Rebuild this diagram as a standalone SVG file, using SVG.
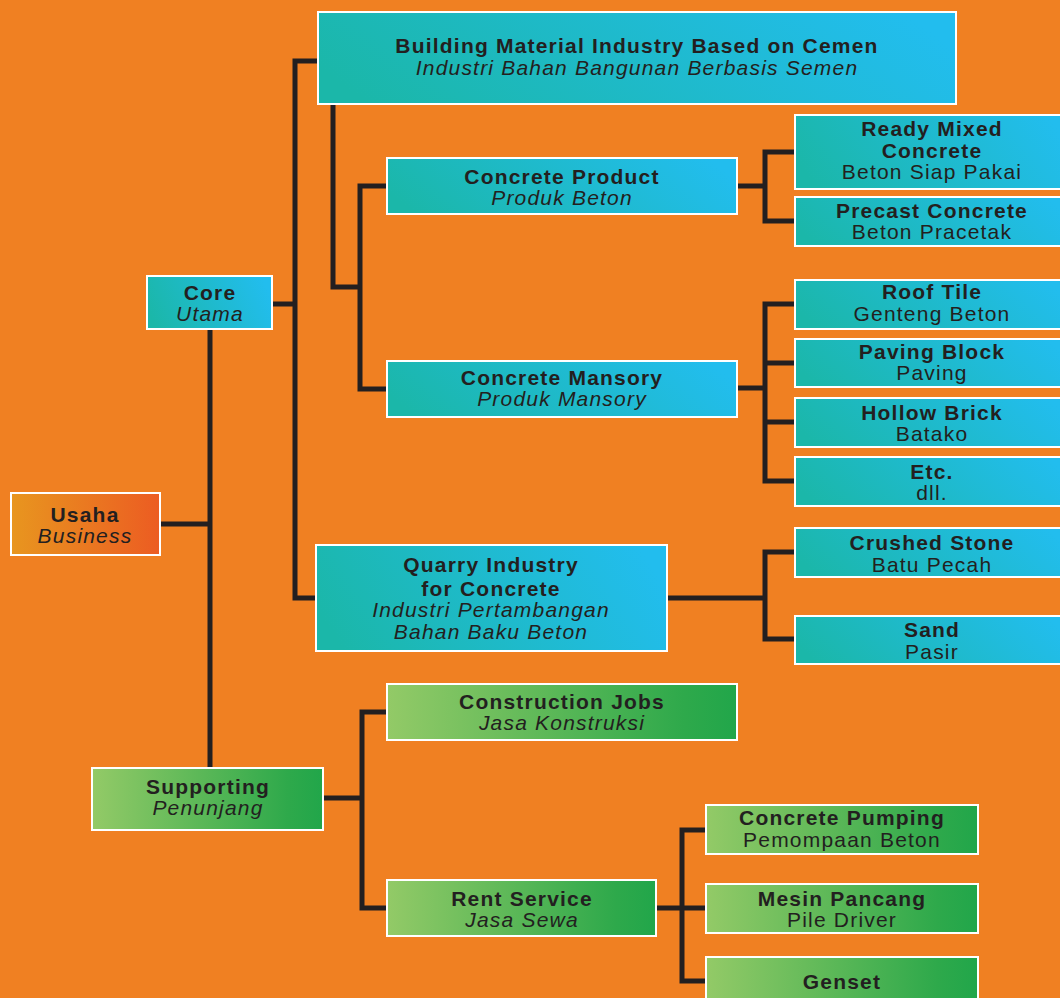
<svg xmlns="http://www.w3.org/2000/svg" width="1060" height="998" viewBox="0 0 1060 998">
<defs>
<linearGradient id="gBlue" x1="0" y1="0.6" x2="1" y2="0.4">
<stop offset="0" stop-color="#1BB7A9"/>
<stop offset="1" stop-color="#22BDEE"/>
</linearGradient>
<linearGradient id="gGreen" x1="0" y1="0" x2="1" y2="0">
<stop offset="0" stop-color="#93CA67"/>
<stop offset="0.85" stop-color="#2EA94B"/>
<stop offset="1" stop-color="#21A64A"/>
</linearGradient>
<linearGradient id="gOrange" x1="0" y1="0" x2="1" y2="0">
<stop offset="0" stop-color="#E8961F"/>
<stop offset="1" stop-color="#EC5C22"/>
</linearGradient>
</defs>
<style>
.b{fill:url(#gBlue);stroke:#FFFFFF;stroke-width:2}
.g{fill:url(#gGreen);stroke:#FFFFFF;stroke-width:2}
.o{fill:url(#gOrange);stroke:#FFFFFF;stroke-width:2}
text{font-family:"Liberation Sans",Arial,sans-serif;font-size:21px;fill:#231F20;text-anchor:middle;letter-spacing:1.2px}
.t{font-weight:bold}
.i{font-style:italic}
.c{fill:none;stroke:#231F20;stroke-width:5;stroke-linejoin:miter;stroke-linecap:butt}
</style>
<rect x="0" y="0" width="1060" height="998" fill="#F08022"/>
<g id="connectors">
<path class="c" d="M160,524 H210 M210,329 V768"/>
<path class="c" d="M272,304 H295 M318,61 H295 V598 H316"/>
<path class="c" d="M333,104 V287 H360 M387,186 H360 V389 H387"/>
<path class="c" d="M737,186 H765 M795,152 H765 V221 H795"/>
<path class="c" d="M737,388 H765 M795,304 H765 V481 H795 M765,363 H795 M765,422 H795"/>
<path class="c" d="M667,598 H765 M795,552 H765 V639 H795"/>
<path class="c" d="M323,798 H362 M387,712 H362 V908 H387"/>
<path class="c" d="M656,908 H706 M706,830 H682 V981 H706"/>
</g>
<g id="usaha"><rect class="o" x="11" y="493" width="149" height="62"/>
<text class="t" x="85" y="522">Usaha</text><text class="i" x="85" y="543">Business</text></g>
<g id="core"><rect class="b" x="147" y="276" width="125" height="53"/>
<text class="t" x="210" y="300">Core</text><text class="i" x="210" y="321">Utama</text></g>
<g id="building"><rect class="b" x="318" y="12" width="638" height="92"/>
<text class="t" x="637" y="53">Building Material Industry Based on Cemen</text><text class="i" x="637" y="75">Industri Bahan Bangunan Berbasis Semen</text></g>
<g id="concrete-product"><rect class="b" x="387" y="158" width="350" height="56"/>
<text class="t" x="562" y="184">Concrete Product</text><text class="i" x="562" y="205">Produk Beton</text></g>
<g id="concrete-mansory"><rect class="b" x="387" y="361" width="350" height="56"/>
<text class="t" x="562" y="385">Concrete Mansory</text><text class="i" x="562" y="406">Produk Mansory</text></g>
<g id="quarry"><rect class="b" x="316" y="545" width="351" height="106"/>
<text class="t" x="491" y="572">Quarry Industry</text><text class="t" x="491" y="596">for Concrete</text>
<text class="i" x="491" y="617">Industri Pertambangan</text><text class="i" x="491" y="639">Bahan Baku Beton</text></g>
<g id="ready-mixed"><rect class="b" x="795" y="115" width="275" height="74"/>
<text class="t" x="932" y="136">Ready Mixed</text><text class="t" x="932" y="158">Concrete</text><text x="932" y="179">Beton Siap Pakai</text></g>
<g id="precast"><rect class="b" x="795" y="197" width="275" height="49"/>
<text class="t" x="932" y="218">Precast Concrete</text><text x="932" y="239">Beton Pracetak</text></g>
<g id="roof-tile"><rect class="b" x="795" y="280" width="275" height="49"/>
<text class="t" x="932" y="299">Roof Tile</text><text x="932" y="321">Genteng Beton</text></g>
<g id="paving"><rect class="b" x="795" y="339" width="275" height="48"/>
<text class="t" x="932" y="359">Paving Block</text><text x="932" y="380">Paving</text></g>
<g id="hollow"><rect class="b" x="795" y="398" width="275" height="49"/>
<text class="t" x="932" y="420">Hollow Brick</text><text x="932" y="441">Batako</text></g>
<g id="etc"><rect class="b" x="795" y="457" width="275" height="49"/>
<text class="t" x="932" y="479">Etc.</text><text x="932" y="500">dll.</text></g>
<g id="crushed"><rect class="b" x="795" y="528" width="275" height="49"/>
<text class="t" x="932" y="550">Crushed Stone</text><text x="932" y="572">Batu Pecah</text></g>
<g id="sand"><rect class="b" x="795" y="616" width="275" height="48"/>
<text class="t" x="932" y="637">Sand</text><text x="932" y="659">Pasir</text></g>
<g id="supporting"><rect class="g" x="92" y="768" width="231" height="62"/>
<text class="t" x="208" y="794">Supporting</text><text class="i" x="208" y="815">Penunjang</text></g>
<g id="construction"><rect class="g" x="387" y="684" width="350" height="56"/>
<text class="t" x="562" y="709">Construction Jobs</text><text class="i" x="562" y="730">Jasa Konstruksi</text></g>
<g id="rent"><rect class="g" x="387" y="880" width="269" height="56"/>
<text class="t" x="522" y="906">Rent Service</text><text class="i" x="522" y="927">Jasa Sewa</text></g>
<g id="pumping"><rect class="g" x="706" y="805" width="272" height="49"/>
<text class="t" x="842" y="825">Concrete Pumping</text><text x="842" y="847">Pemompaan Beton</text></g>
<g id="pancang"><rect class="g" x="706" y="884" width="272" height="49"/>
<text class="t" x="842" y="906">Mesin Pancang</text><text x="842" y="927">Pile Driver</text></g>
<g id="genset"><rect class="g" x="706" y="957" width="272" height="60"/>
<text class="t" x="842" y="989">Genset</text></g>
</svg>
